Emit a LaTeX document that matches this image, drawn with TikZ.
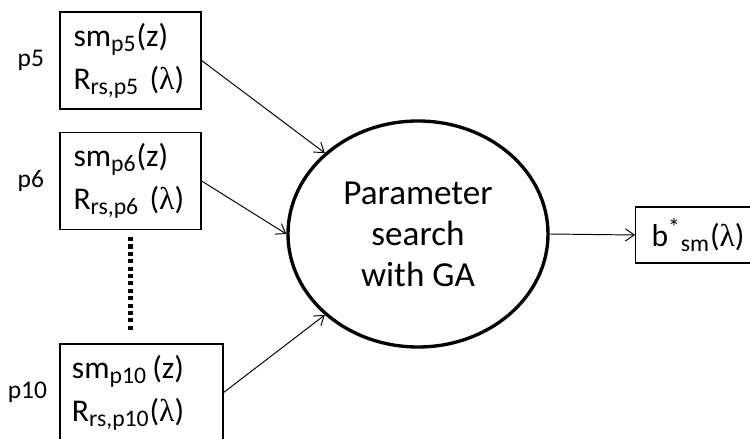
\documentclass[tikz,border=0pt]{standalone}
\usepackage{fontspec}
\setmainfont{Carlito}
\newfontfamily\lamfont{Liberation Serif}
\newcommand{\lmbd}{{\lamfont λ}}
\DeclareMathSizes{18}{18}{13.5}{10}
\usetikzlibrary{positioning,shapes.geometric,arrows.meta}

\tikzset{
  inbox/.style={draw,line width=0.7pt,align=left,inner xsep=0.27cm,
    minimum height=1.94cm,font=\fontsize{18}{24.5}\selectfont},
  plabel/.style={inner sep=0pt,font=\fontsize{14.5}{15}\selectfont},
  gabox/.style={ellipse,draw,line width=1.9pt,align=center,inner sep=0pt,
    minimum width=5.2cm,minimum height=4.52cm,font=\fontsize{20}{23.3}\selectfont},
  outbox/.style={draw,line width=0.7pt,inner xsep=0.32cm,minimum height=1.12cm,
    font=\fontsize{18}{18}\selectfont},
  conn/.style={->,line width=0.55pt},
  dots/.style={line width=2.3pt,dash pattern=on 2.3pt off 1.9pt}
}

\begin{document}
\begin{tikzpicture}[>={Straight Barb[length=5pt,width=7pt]}]
  \useasboundingbox (0,0) rectangle (15,-8.78);
  \clip (0,0) rectangle (15,-8.78);

  % input boxes
  \node[inbox,text width=2.28cm] (p5) at (2.61,-1.21)
    {sm\textsubscript{p5}(z)\\R\textsubscript{rs,p5}~(\lmbd)};
  \node[inbox,text width=2.28cm] (p6) at (2.61,-3.62)
    {sm\textsubscript{p6}(z)\\R\textsubscript{rs,p6}~(\lmbd)};
  \node[inbox,text width=2.78cm,inner xsep=0.24cm] (p10) at (2.83,-7.85)
    {sm\textsubscript{p10}\,(z)\\R\textsubscript{rs,p10}(\lmbd)};

  \node[plabel,left=0.3cm of p5] (l5) {p5};
  \node[plabel,left=0.3cm of p6] (l6) {p6};
  \node[plabel,left=0.24cm of p10] (l10) {p10};

  % search and result
  \node[gabox] (ga) at (8.36,-4.68) {Parameter\\search\\with GA};
  \node[outbox,anchor=west] (bsm) at (12.7,-4.7)
    {b\textsuperscript{*}\textsubscript{sm}(\lmbd)};

  % dotted gap between p6 and p10
  \path (p6.south |- p10.north) coordinate (dotlow);
  \draw[dots] ([yshift=-0.14cm]p6.south) -- ([yshift=0.24cm]dotlow);

  \draw[conn] (p5.east) -- (ga.139);
  \draw[conn] (p6.east) -- (ga.west);
  \draw[conn] (p10.east) -- (ga.221);
  \draw[conn] (ga.east) -- (bsm.west);
\end{tikzpicture}
\end{document}
